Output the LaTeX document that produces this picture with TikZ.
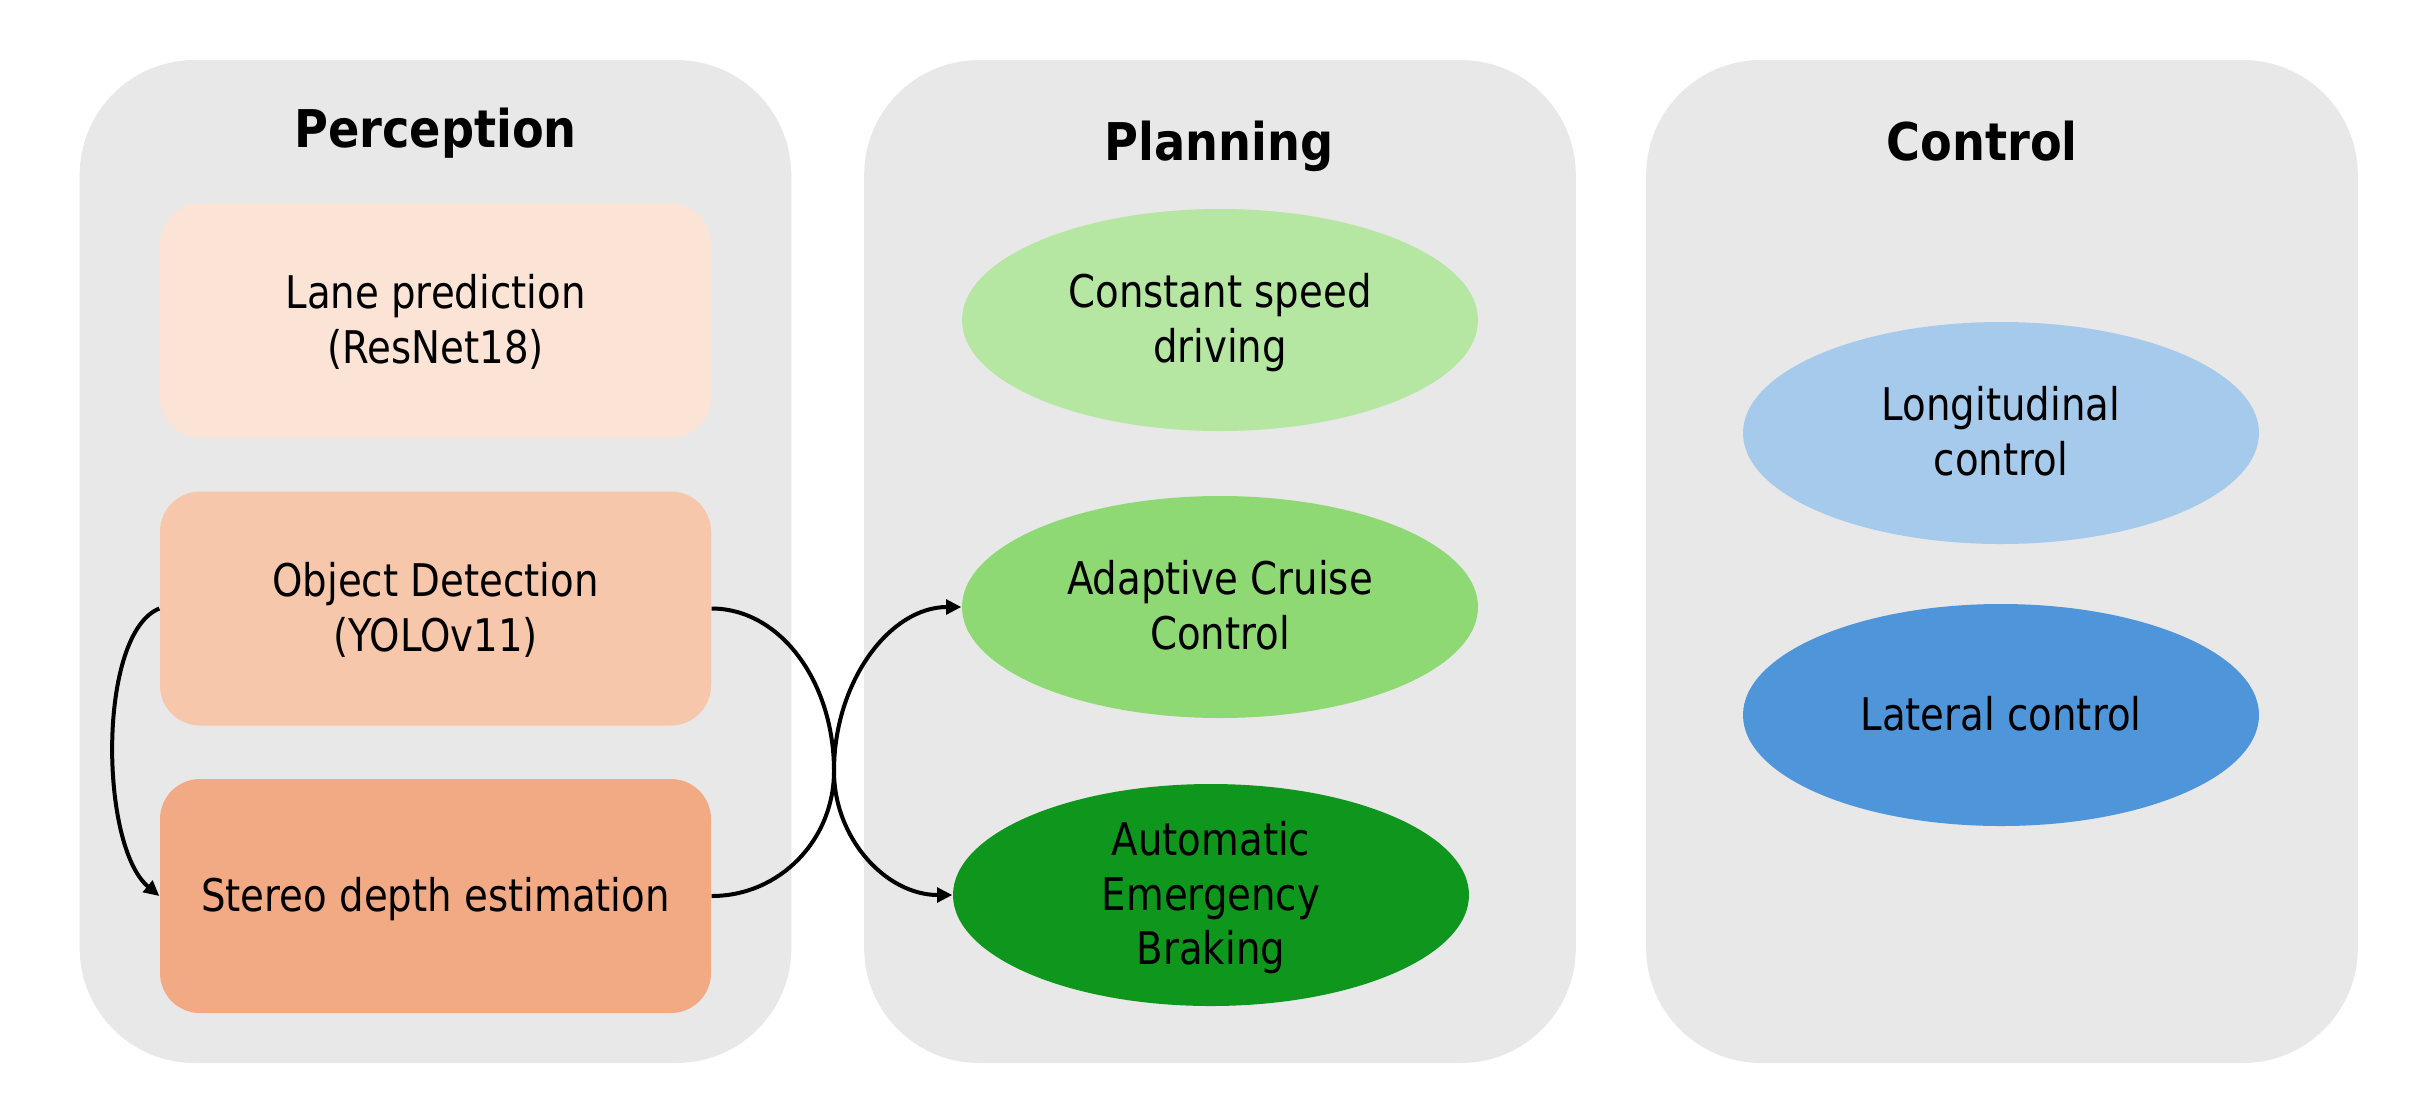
\documentclass[tikz,border=0pt]{standalone}
\usepackage{fontspec}
\setmainfont{DejaVu Sans}[FakeStretch=0.86]
\newfontfamily\titlefont{DejaVu Sans}[FakeStretch=0.89]
\usetikzlibrary{arrows.meta,shapes.geometric}
\definecolor{panelgray}{HTML}{E8E8E8}
\definecolor{laneC}{HTML}{FBE3D6}
\definecolor{objC}{HTML}{F7C7AC}
\definecolor{stereoC}{HTML}{F2AA84}
\definecolor{constC}{HTML}{B5E6A2}
\definecolor{accC}{HTML}{8ED973}
\definecolor{aebC}{HTML}{0E961D}
\definecolor{longC}{HTML}{A6CAEC}
\definecolor{latC}{HTML}{4E95D9}
\newcommand\boxtext[1]{\raisebox{-4.9pt}[0pt][0pt]{\begin{tabular}{@{}c@{}}#1\end{tabular}}}
\tikzset{
  panel/.style={fill=panelgray, draw=none, rectangle, rounded corners=34.5pt,
    minimum width=213.5pt, minimum height=300.9pt, inner sep=0pt},
  ptitle/.style={anchor=base, inner sep=0pt, font=\titlefont\bfseries\fontsize{15.6pt}{18pt}\selectfont},
  procbox/.style={rectangle, rounded corners=12pt, draw=none, minimum width=165.3pt,
    minimum height=70.2pt, inner sep=0pt,
    font=\fontsize{13.5pt}{16.4pt}\selectfont},
  oval/.style={ellipse, draw=none, minimum width=154.8pt, minimum height=66.6pt,
    inner sep=0pt, font=\fontsize{13.5pt}{16.4pt}\selectfont},
  conn/.style={line width=1.2pt, black, -{Triangle[length=4.6pt,width=4.4pt]}}
}
\begin{document}
\begin{tikzpicture}[x=0.3pt,y=-0.3pt]
\fill[white] (0,0) rectangle (2410,1104);
\useasboundingbox (0,0) rectangle (2410,1104);
% panels
\node[panel] (pperc) at (435.5,561.5) {};
\node[panel] (pplan) at (1220,561.5) {};
\node[panel] (pctrl) at (2002,561.5) {};
% titles
\node[ptitle] (tperc) at (435.5,147) {Perception};
\node[ptitle] (tplan) at (1219,160) {Planning};
\node[ptitle] (tctrl) at (1982,160) {Control};
% perception boxes
\node[procbox, fill=laneC] (lane) at (435.5,320.5) {\boxtext{Lane prediction\\(ResNet18)}};
\node[procbox, fill=objC] (obj) at (435.5,608.5) {\boxtext{Object Detection\\(YOLOv11)}};
\node[procbox, fill=stereoC] (stereo) at (435.5,896) {\boxtext{Stereo depth estimation}};
% planning ellipses
\node[oval, fill=constC] (const) at (1220,320) {\boxtext{Constant speed\\driving}};
\node[oval, fill=accC] (acc) at (1220,607) {\boxtext{Adaptive Cruise\\Control}};
\node[oval, fill=aebC] (aeb) at (1211,895) {\boxtext{Automatic\\Emergency\\Braking}};
% control ellipses
\node[oval, fill=longC] (long) at (2001,433) {\boxtext{Longitudinal\\control}};
\node[oval, fill=latC] (lat) at (2001,715) {\boxtext{Lateral control}};
% connectors
\coordinate (kiss) at (834,771);
\draw[conn] (obj.west) .. controls +(-62,25) and +(-60,-50) .. (stereo.west);
\draw[conn] (obj.east) .. controls +(68,0) and +(0,-90) .. (kiss)
  .. controls +(0,68) and +(-66,0) .. (aeb.west);
\draw[conn] (stereo.east) .. controls +(68,0) and +(0,69) .. (kiss)
  .. controls +(0,-90) and +(-71,0) .. (acc.west);
\end{tikzpicture}
\end{document}
